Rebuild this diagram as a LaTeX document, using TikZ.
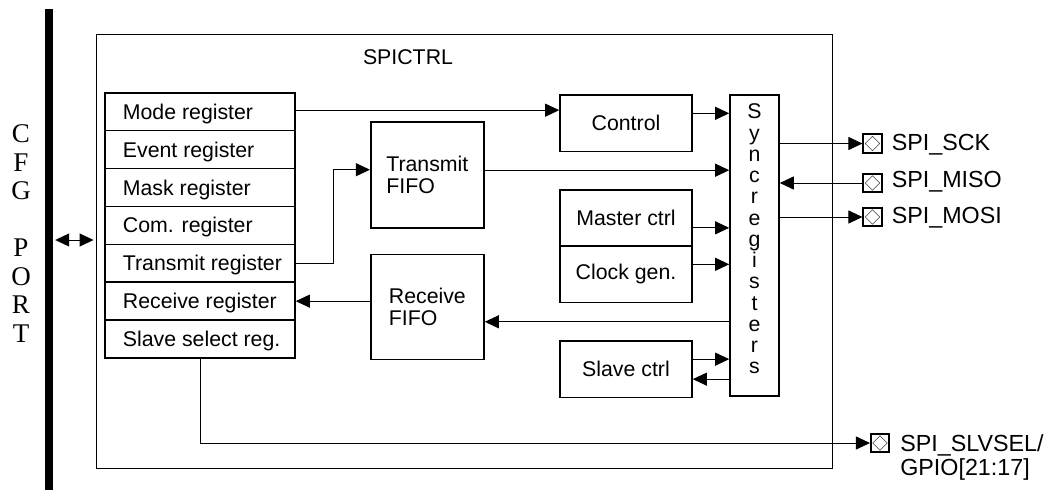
\documentclass[tikz,border=0pt]{standalone}
\usepackage{fontspec}
\setmainfont{Liberation Sans}
\newfontfamily\cfgfont{Liberation Serif}
\usetikzlibrary{arrows.meta,calc}
\begin{document}
\begin{tikzpicture}[x=1pt,y=-1pt,
  every node/.style={font=\fontsize{21.3}{21.5}\selectfont},
  blk/.style={draw, line width=1.6pt, rectangle, inner sep=0pt},
  wire/.style={line width=0.9pt},
  tip/.tip={Triangle[length=14pt,width=13pt]},
  arr/.style={wire, -tip},
  pinbox/.style={draw, line width=1.6pt, minimum size=18.5pt, inner sep=0pt,
    path picture={\draw[line width=0.5pt, black!75]
      ([yshift=-2pt]path picture bounding box.north) --
      ([xshift=-2pt]path picture bounding box.east) --
      ([yshift=2pt]path picture bounding box.south) --
      ([xshift=2pt]path picture bounding box.west) -- cycle;}},
  pinlabel/.style={anchor=base west, inner sep=0pt, font=\fontsize{23.3}{24}\selectfont}
]
\useasboundingbox (0,0) rectangle (1052,490);

% CFG port bar and label
\node[fill=black, minimum width=8pt, minimum height=481pt, inner sep=0pt] (bar) at (49,249.5) {};
\node[font=\cfgfont\fontsize{27}{28.5}\selectfont, align=center, inner sep=0pt] (cfg) at (21,233.5)
  {C\\F\\G\\\mbox{}\\P\\O\\R\\T};

% outer block
\node[draw, line width=0.9pt, minimum width=736pt, minimum height=434pt, inner sep=0pt] (outer) at (464,251) {};
\node (title) at (408,57) {SPICTRL};

% register stack
\foreach \i/\t in {1/Mode register,2/Event register,3/Mask register,4/Com. register,
                   5/Transmit register,6/Receive register,7/Slave select reg.} {
  \node[blk, minimum width=190pt, minimum height=37.9pt] (r\i) at (200,{92.7+37.9*(\i-0.5)}) {};
  \node[anchor=base west, inner sep=0pt] (t\i) at ($(r\i.west)+(18.5,7.6)$) {\t};
}

% FIFOs
\node[blk, minimum width=113.3pt, minimum height=106pt, align=left] (tfifo) at (427.35,174.7) {Transmit\\FIFO};
\node[blk, minimum width=113.3pt, minimum height=105pt, align=left] (rfifo) at (427.35,306.8) {Receive\\FIFO};

% control blocks
\node[blk, minimum width=132pt, minimum height=56.7pt] (ctrl) at (626,123.3) {Control};
\node[blk, minimum width=132pt, minimum height=55.7pt] (master) at (626,217.85) {Master ctrl};
\node[blk, minimum width=132pt, minimum height=56.6pt] (clock) at (626,274) {Clock gen.};
\node[blk, minimum width=132pt, minimum height=56.3pt] (slave) at (626,369.15) {Slave ctrl};

% sync registers
\node[blk, minimum width=49pt, minimum height=301pt] (sync) at (754.5,245.5) {};
\node[align=center, inner sep=0pt, font=\fontsize{21.3}{21.25}\selectfont] (synctext) at (754.5,239)
  {S\\y\\n\\c\\r\\e\\g\\i\\s\\t\\e\\r\\s};

% pins
\node[pinbox] (pin1) at (872.5,143.5) {};
\node[pinbox] (pin2) at (872.5,183) {};
\node[pinbox] (pin3) at (872.5,217) {};
\node[pinbox] (pin4) at (880,443) {};
\node[pinlabel] (l1) at ($(pin1.east)+(9,7)$) {SPI\_SCK};
\node[pinlabel] (l2) at ($(pin2.east)+(9,4.5)$) {SPI\_MISO};
\node[pinlabel] (l3) at ($(pin3.east)+(9,6)$) {SPI\_MOSI};
\node[anchor=north west, inner sep=0pt, align=left, font=\fontsize{23.3}{24}\selectfont] (l4)
  at ($(pin4.east)+(10,-8.5)$) {SPI\_SLVSEL/\\GPIO[21:17]};

% connectors
\coordinate (m1) at ($(r1.east)+(0,-1.5)$);
\draw[arr] (m1) -- (m1 -| ctrl.west);
\coordinate (c2) at ($(ctrl.east)+(0,-10)$);
\draw[arr] (c2) -- (c2 -| sync.west);
\coordinate (tx1) at ($(tfifo.west)+(0,-5)$);
\draw[arr] (r5.east) -- ++(38,0) |- (tx1);
\coordinate (tx2) at ($(tfifo.east)+(0,-4.5)$);
\draw[arr] (tx2) -- (tx2 -| sync.west);
\coordinate (mc) at ($(master.east)+(0,10)$);
\draw[arr] (mc) -- (mc -| sync.west);
\coordinate (cg) at ($(clock.east)+(0,-9.7)$);
\draw[arr] (cg) -- (cg -| sync.west);
\coordinate (rx1) at ($(rfifo.east)+(0,15)$);
\draw[arr] (rx1 -| sync.west) -- (rx1);
\draw[arr] (rfifo.west |- r6.east) -- (r6.east);
\coordinate (sl1) at ($(slave.east)+(0,-10)$);
\draw[arr] (sl1) -- (sl1 -| sync.west);
\coordinate (sl2) at ($(slave.east)+(0,10)$);
\draw[arr] (sl2 -| sync.west) -- (sl2);
\draw[arr] (sync.east |- pin1.west) -- (pin1.west);
\draw[arr] (pin2.west) -- (pin2.west -| sync.east);
\draw[arr] (sync.east |- pin3.west) -- (pin3.west);
\draw[arr] (r7.south) |- (pin4.west);
\coordinate (cp) at (75,240);
\draw[wire, tip-tip, shorten <=2pt, shorten >=2pt] (cp -| bar.east) -- (cp -| outer.west);
\end{tikzpicture}
\end{document}
